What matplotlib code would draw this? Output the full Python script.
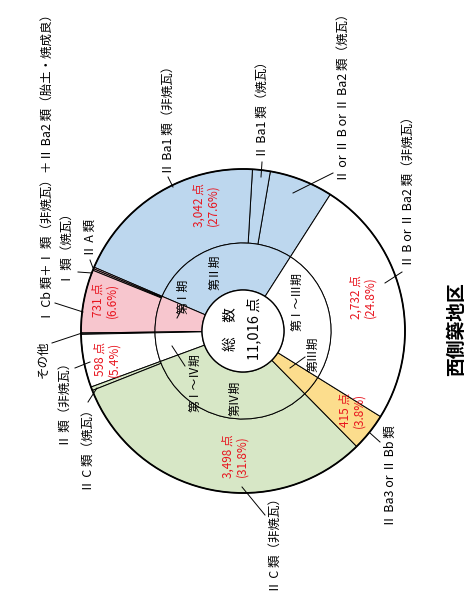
import matplotlib
matplotlib.use('Agg')
from matplotlib import pyplot as plt
from matplotlib.patches import Circle

plt.rcParams['font.family'] = ['Noto Sans CJK JP', 'DejaVu Sans']

# periods (inner ring), counter-clockwise from the start angle
period_names = ['第Ⅱ期', '第Ⅰ期', '第Ⅰ～Ⅳ期', '第Ⅳ期', '第Ⅲ期', '第Ⅰ～Ⅲ期']
period_counts = [3042, 731, 598, 3498, 415, 2732]
period_colors = ['#bdd7ee', '#f7c6ce', 'white', '#d7e7c6', '#fcdd8d', 'white']

# tile types (outer ring), same order, with the period each belongs to
type_names = [
    'Ⅱ or Ⅱ B or Ⅱ Ba2 類（焼瓦）',
    'Ⅱ Ba1 類（焼瓦）',
    'Ⅱ Ba1 類（非焼瓦）',
    'Ⅱ A 類',
    'Ⅰ 類（焼瓦）',
    'Ⅰ Cb 類＋Ⅰ 類（非焼瓦）＋Ⅱ Ba2 類（胎土・焼成良）',
    'その他',
    'Ⅱ 類（非焼瓦）',
    'Ⅱ C 類（焼瓦）',
    'Ⅱ C 類（非焼瓦）',
    'Ⅱ Ba3 or Ⅱ Bb 類',
    'Ⅱ B or Ⅱ Ba2 類（非焼瓦）',
]
type_counts = [700, 195, 2147, 18, 18, 695, 15, 583, 40, 3458, 415, 2732]
type_period = [0, 0, 0, 1, 1, 1, 2, 2, 3, 3, 4, 5]

title = '西側築地区'

W, H = 470, 596
CX, CY = 243, H - 331
R_OUT, R_MID, R_IN = 162, 88, 41
START = 57.4
OTHER_COLOR = '#5a5a5a'
RED = '#e8141e'


def up(y):
    return H - y


# type label layout: x, y (image rows), which end sits at y, leader line
type_layout = {
    'Ⅱ or Ⅱ B or Ⅱ Ba2 類（焼瓦）': (343, 182, 'bottom', (333, 173), (293, 193)),
    'Ⅱ Ba1 類（焼瓦）': (262, 158, 'bottom', (262, 162), (261, 177)),
    'Ⅱ Ba1 類（非焼瓦）': (168, 175, 'bottom', (168, 177), (173, 187)),
    'Ⅱ A 類': (90, 257, 'bottom', (90, 260), (93, 268)),
    'Ⅰ 類（焼瓦）': (67, 285, 'bottom', (78, 272), (92, 273)),
    'Ⅰ Cb 類＋Ⅰ 類（非焼瓦）＋Ⅱ Ba2 類（胎土・焼成良）': (47, 322, 'bottom', (55, 303), (83, 312)),
    'その他': (43, 340, 'top', (52, 343), (82, 333)),
    'Ⅱ 類（非焼瓦）': (65, 357, 'top', (75, 368), (90, 362)),
    'Ⅱ C 類（焼瓦）': (88, 403, 'top', (88, 402), (97, 388)),
    'Ⅱ C 類（非焼瓦）': (275, 593, 'bottom', (265, 515), (242, 487)),
    'Ⅱ Ba3 or Ⅱ Bb 類': (390, 425, 'top', (380, 442), (370, 433)),
    'Ⅱ B or Ⅱ Ba2 類（非焼瓦）': (408, 267, 'bottom', (402, 272), (385, 283)),
}

# period label layout: x, y, optional leader
period_layout = {
    '第Ⅱ期': (215, 272, None),
    '第Ⅰ期': (183, 296, ((183, 307), (177, 318))),
    '第Ⅰ～Ⅳ期': (195, 383, ((185, 366), (172, 346))),
    '第Ⅳ期': (235, 398, None),
    '第Ⅲ期': (313, 354, ((305, 357), (290, 368))),
    '第Ⅰ～Ⅲ期': (297, 302, None),
}

# count / share labels per period
count_pos = [(206, 205), (105, 300), (107, 359), (235, 456), (352, 410), (363, 297)]


def main():
    total = sum(period_counts)

    # split "その他" out of its period so its line crosses both rings
    other = type_counts[type_names.index('その他')]
    inner_counts, inner_colors = [], []
    for i, c in enumerate(period_counts):
        if i == type_period[type_names.index('その他')]:
            inner_counts += [other, c - other]
            inner_colors += [OTHER_COLOR, period_colors[i]]
        else:
            inner_counts.append(c)
            inner_colors.append(period_colors[i])

    outer_colors = [OTHER_COLOR if n == 'その他' else period_colors[p]
                    for n, p in zip(type_names, type_period)]

    fig = plt.figure(figsize=(W / 100, H / 100), dpi=100)
    ax = fig.add_axes([0, 0, 1, 1])

    wp = dict(edgecolor='black', linewidth=0.7)
    ax.pie(type_counts, radius=R_OUT, center=(CX, CY), startangle=START,
           colors=outer_colors, wedgeprops=dict(width=R_OUT - R_MID, **wp))
    ax.pie(inner_counts, radius=R_MID, center=(CX, CY), startangle=START,
           colors=inner_colors, wedgeprops=dict(width=R_MID - R_IN, **wp))
    ax.add_patch(Circle((CX, CY), R_IN, fc='white', ec='black', lw=1.0, zorder=3))
    ax.add_patch(Circle((CX, CY), R_OUT, fill=False, ec='black', lw=1.3, zorder=3))

    ax.text(CX - 12, CY + 2, '総\u3000数', rotation=90, ha='center', va='center', fontsize=10.5)
    ax.text(CX + 11, CY + 2, f'{total:,} 点', rotation=90, ha='center', va='center', fontsize=10.5)

    for name in type_names:
        x, y, end, p0, p1 = type_layout[name]
        ax.text(x, up(y), name, rotation=90, ha='center', va=end, fontsize=9)
        ax.plot([p0[0], p1[0]], [up(p0[1]), up(p1[1])], color='black', lw=0.7)

    for name in period_names:
        x, y, leader = period_layout[name]
        ax.text(x, up(y), name, rotation=90, ha='center', va='center', fontsize=8.5, zorder=4)
        if leader is not None:
            p0, p1 = leader
            ax.plot([p0[0], p1[0]], [up(p0[1]), up(p1[1])], color='black', lw=0.7, zorder=4)

    for (x, y), c in zip(count_pos, period_counts):
        ax.text(x, up(y), f'{c:,} 点\n({c / total * 100:.1f}%)', rotation=90,
                ha='center', va='center', fontsize=8.5, color=RED,
                multialignment='center', linespacing=1.1)

    ax.text(457, up(329), title, rotation=90, ha='center', va='center',
            fontsize=13.5, fontweight='bold')

    ax.set_xlim(0, W)
    ax.set_ylim(0, H)
    ax.set_aspect('equal')
    ax.axis('off')
    fig.savefig('out.png', dpi=100, facecolor='white')
    plt.close(fig)


if __name__ == '__main__':
    main()
